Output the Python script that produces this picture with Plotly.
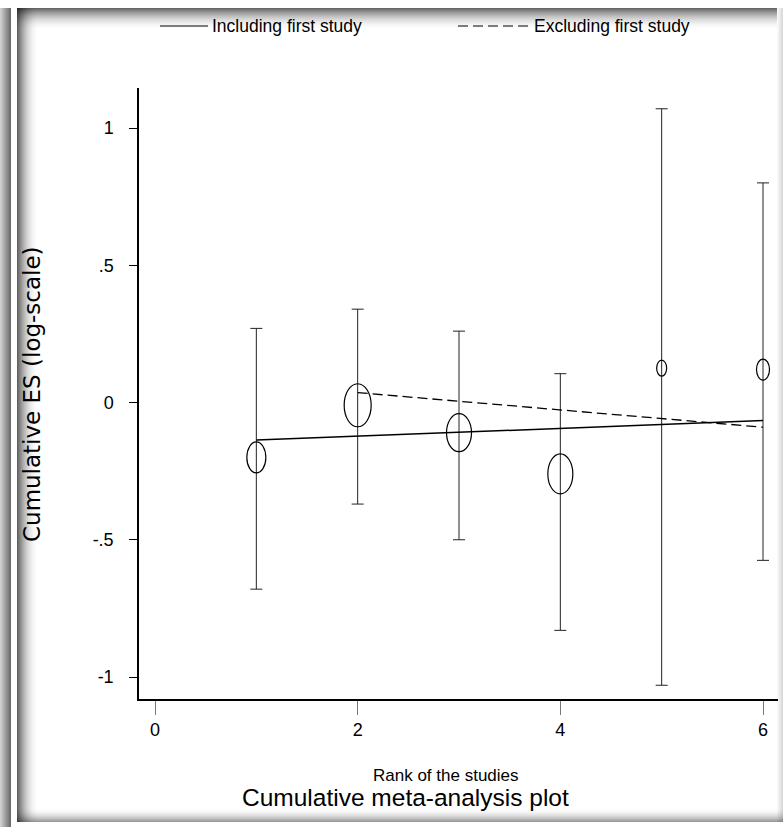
import plotly.graph_objects as go

# Cumulative meta-analysis: effect size (log-scale) by rank of the studies
rank = [1, 2, 3, 4, 5, 6]
cum_es = [-0.20, -0.01, -0.11, -0.26, 0.125, 0.12]
ci_low = [-0.68, -0.37, -0.50, -0.83, -1.03, -0.575]
ci_high = [0.27, 0.34, 0.26, 0.105, 1.07, 0.80]

# fitted trend lines
incl_x = [1, 6]
incl_y = [-0.137, -0.066]
excl_x = [2, 6]
excl_y = [0.036, -0.09]

x_ticks = [0, 2, 4, 6]
y_ticks = [-1, -0.5, 0, 0.5, 1]
y_tick_text = ["-1", "-.5", "0", ".5", "1"]

# ellipse marker sizes (px) reflecting study weights
marker_w = [19, 27, 25, 25, 10, 13]
marker_h = [31, 43, 38, 40, 16, 21]

W, H = 783, 827
L, R, T, B = 139, 5, 88, 128
PW, PH = W - L - R, H - T - B

SANS = "Liberation Sans, Arial, sans-serif"


def px(x):
    return (x - L) / PW


def py(y):
    return (H - B - y) / PH


fig = go.Figure()

# confidence intervals
fig.add_trace(go.Scatter(
    x=rank, y=cum_es, mode="markers",
    marker=dict(size=1, color="rgba(0,0,0,0)"),
    error_y=dict(type="data", symmetric=False,
                 array=[h - e for h, e in zip(ci_high, cum_es)],
                 arrayminus=[e - l for e, l in zip(cum_es, ci_low)],
                 color="#222", thickness=1, width=6),
    showlegend=False, hoverinfo="skip",
))

fig.add_trace(go.Scatter(
    x=incl_x, y=incl_y, mode="lines",
    line=dict(color="black", width=1.5),
    name="Including first study", showlegend=False,
))
fig.add_trace(go.Scatter(
    x=excl_x, y=excl_y, mode="lines",
    line=dict(color="black", width=1.3, dash="10px,5px"),
    name="Excluding first study", showlegend=False,
))

shapes = []

# weighted ellipse markers
for xv, yv, w, h in zip(rank, cum_es, marker_w, marker_h):
    shapes.append(dict(
        type="circle", xref="x", yref="y",
        xsizemode="pixel", ysizemode="pixel",
        xanchor=xv, yanchor=yv,
        x0=-w / 2, x1=w / 2, y0=-h / 2, y1=h / 2,
        line=dict(color="black", width=1.2), fillcolor="rgba(0,0,0,0)",
        layer="above",
    ))


def band(x0, x1, y0, y1, color):
    shapes.append(dict(
        type="rect", xref="paper", yref="paper",
        x0=px(x0), x1=px(x1), y0=py(y1), y1=py(y0),
        line=dict(width=0), fillcolor=color, layer="below",
    ))


# frame shading around the panel
for i in range(11):
    a = 0.18 + 0.4 * (i / 10)
    band(i, i + 1, 8, 827, f"rgba(0,0,0,{a:.3f})")
for i in range(21):
    a = 0.62 * (1 - i / 21) ** 2
    band(17 + i, 18 + i, 8, 822, f"rgba(0,0,0,{a:.3f})")
for i in range(22):
    a = 0.6 * (1 - i / 22) ** 2
    band(17, 777, 8 + i, 9 + i, f"rgba(0,0,0,{a:.3f})")
for i in range(14):
    a = 0.4 * ((i + 1) / 14) ** 2
    band(17, 783, 808 + i, 809 + i, f"rgba(0,0,0,{a:.3f})")
for i in range(6):
    a = 0.15 * ((i + 1) / 6)
    band(777 + i, 778 + i, 8, 822, f"rgba(0,0,0,{a:.3f})")

# legend samples
shapes.append(dict(type="line", xref="paper", yref="paper",
                   x0=px(160), x1=px(208), y0=py(26), y1=py(26),
                   line=dict(color="black", width=1.2)))
shapes.append(dict(type="line", xref="paper", yref="paper",
                   x0=px(458), x1=px(530), y0=py(26), y1=py(26),
                   line=dict(color="black", width=1.2, dash="10px,5px")))

annotations = [
    dict(text="Including first study", x=px(210), y=py(26), xref="paper", yref="paper",
         xanchor="left", yanchor="middle", showarrow=False,
         font=dict(family=SANS, size=17.5, color="black")),
    dict(text="Excluding first study", x=px(532), y=py(26), xref="paper", yref="paper",
         xanchor="left", yanchor="middle", showarrow=False,
         font=dict(family=SANS, size=17.5, color="black")),
    dict(text="Cumulative ES (log-scale)", x=px(32), y=py(394), xref="paper", yref="paper",
         xanchor="center", yanchor="middle", textangle=-90, showarrow=False,
         font=dict(family="DejaVu Sans, sans-serif", size=23, color="black")),
    dict(text="Rank of the studies", x=px(446), y=py(775), xref="paper", yref="paper",
         xanchor="center", yanchor="middle", showarrow=False,
         font=dict(family=SANS, size=17, color="black")),
    dict(text="Cumulative meta-analysis plot", x=px(405), y=py(797), xref="paper", yref="paper",
         xanchor="center", yanchor="middle", showarrow=False,
         font=dict(family=SANS, size=24.5, color="black")),
]

fig.update_layout(
    width=W, height=H,
    margin=dict(l=L, r=R, t=T, b=B),
    paper_bgcolor="white", plot_bgcolor="white",
    shapes=shapes, annotations=annotations,
    xaxis=dict(
        range=[-0.158, 6.148], tickvals=x_ticks, ticktext=[str(v) for v in x_ticks],
        ticks="outside", ticklen=14, tickcolor="#777", tickwidth=1.2,
        showline=True, linecolor="black", linewidth=1.5,
        showgrid=False, zeroline=False,
        tickfont=dict(family=SANS, size=18, color="black"),
    ),
    yaxis=dict(
        range=[-1.0801, 1.1457], tickvals=y_ticks, ticktext=y_tick_text,
        ticks="outside", ticklen=8, tickcolor="black", tickwidth=1.2,
        ticklabelstandoff=12,
        showline=True, linecolor="black", linewidth=1.5,
        showgrid=False, zeroline=False,
        tickfont=dict(family=SANS, size=18, color="black"),
    ),
)

fig.write_html("out.html")
